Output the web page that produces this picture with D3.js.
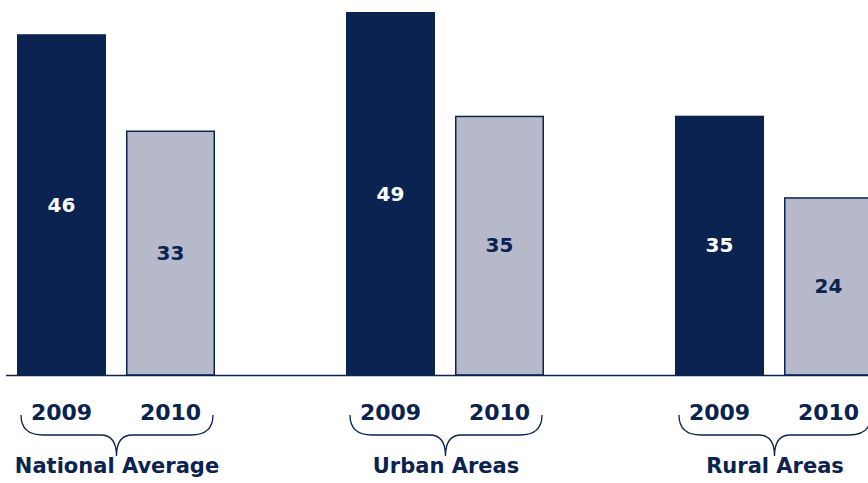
<!DOCTYPE html>
<html lang="en">
<head>
    <meta charset="UTF-8">
    <title>2009 vs 2010</title>
    <script src="https://d3js.org/d3.v7.min.js"></script>
    <style type="text/css">
        body { margin: 0; background: #fff; }
        svg { display: block; }
        text { font-family: "DejaVu Sans", Verdana, sans-serif; font-weight: bold; }
    </style>
</head>
<body>
    <div id="chartArea"></div>
    <script type="text/javascript">
        var categories = ['National Average', 'Urban Areas', 'Rural Areas'];
        var years = ['2009', '2010'];
        var values2009 = [46, 49, 35];
        var values2010 = [33, 35, 24];

        var w = 868, h = 483;
        var baseY = 375;
        var dark = '#0a2350', light = '#b6b9ca';

        var svg = d3.select('#chartArea').append('svg')
            .attr('width', w)
            .attr('height', h);

        var x0 = d3.scaleBand()
            .domain(categories)
            .range([17, 17 + 3 * 329]);

        var x1 = d3.scaleBand()
            .domain(years)
            .range([0, 198])
            .paddingInner(20 / 109);

        var y = d3.scaleLinear()
            .domain([0, 49])
            .range([baseY, 12]);

        var data = [];
        categories.forEach(function (c, i) {
            data.push({ cat: c, year: '2009', v: values2009[i] });
            data.push({ cat: c, year: '2010', v: values2010[i] });
        });

        var bars = svg.selectAll('g.bar')
            .data(data)
            .enter()
            .append('g')
            .attr('class', 'bar')
            .attr('transform', function (d) { return 'translate(' + (x0(d.cat) + x1(d.year)) + ',0)'; });

        bars.append('rect')
            .attr('x', function (d) { return d.year === '2010' ? 0.75 : 0; })
            .attr('y', function (d) { return y(d.v) + (d.year === '2010' ? 0.75 : 0); })
            .attr('width', function (d) { return x1.bandwidth() - (d.year === '2010' ? 1.5 : 0); })
            .attr('height', function (d) { return baseY - y(d.v) - (d.year === '2010' ? 0.75 : 0); })
            .attr('fill', function (d) { return d.year === '2009' ? dark : light; })
            .attr('stroke', function (d) { return d.year === '2010' ? dark : 'none'; })
            .attr('stroke-width', 1.5);

        bars.append('text')
            .attr('x', x1.bandwidth() / 2)
            .attr('y', function (d) { return (y(d.v) + baseY) / 2 + 7; })
            .attr('text-anchor', 'middle')
            .attr('font-size', 20)
            .attr('fill', function (d) { return d.year === '2009' ? '#fff' : dark; })
            .text(function (d) { return d.v; });

        // baseline
        svg.append('line')
            .attr('x1', 6).attr('x2', w)
            .attr('y1', baseY + 0.5).attr('y2', baseY + 0.5)
            .attr('stroke', dark)
            .attr('stroke-width', 1.5);

        // year labels
        bars.append('text')
            .attr('x', x1.bandwidth() / 2)
            .attr('y', 420)
            .attr('text-anchor', 'middle')
            .attr('font-size', 22)
            .attr('fill', dark)
            .text(function (d) { return d.year; });

        // braces + category labels
        var groups = svg.selectAll('g.grp')
            .data(categories)
            .enter()
            .append('g')
            .attr('class', 'grp')
            .attr('transform', function (d) { return 'translate(' + x0(d) + ',0)'; });

        groups.append('path')
            .attr('d', function () {
                var l = 4, r = 196, c = 99.5;
                return 'M' + l + ',415 Q' + l + ',435 ' + (l + 22) + ',435 L' + (c - 16) + ',435' +
                    ' Q' + c + ',435 ' + c + ',456 Q' + c + ',435 ' + (c + 16) + ',435' +
                    ' L' + (r - 22) + ',435 Q' + r + ',435 ' + r + ',415';
            })
            .attr('fill', 'none')
            .attr('stroke', dark)
            .attr('stroke-width', 1.3);

        groups.append('text')
            .attr('x', 100)
            .attr('y', 473)
            .attr('text-anchor', 'middle')
            .attr('font-size', 21)
            .attr('fill', dark)
            .text(function (d) { return d; });
    </script>
</body>
</html>
